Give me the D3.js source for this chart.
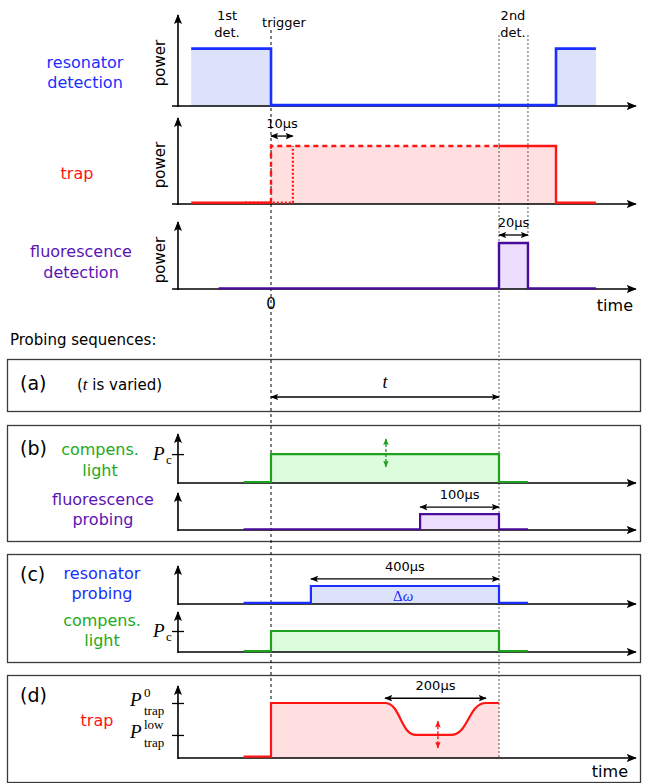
<!DOCTYPE html>
<html>
<head>
<meta charset="utf-8">
<script src="https://cdn.jsdelivr.net/npm/d3@7"></script>
<style>
body { margin: 0; background: #fff; }
text { font-family: "DejaVu Sans", Verdana, sans-serif; }
.math { font-family: "Liberation Serif", "DejaVu Serif", serif; font-style: italic; }
.rm { font-family: "Liberation Serif", "DejaVu Serif", serif; font-style: normal; }
</style>
</head>
<body>
<svg></svg>
<script>
// schematic time units: 0 = trigger, 100 = 2nd detection
// each trace: [time, level], level 0..1 of its own panel height
var resonatorDetection = [[-35, 0.63], [0, 0.63], [0, 0.01], [125, 0.01], [125, 0.63], [142.5, 0.63]];
var trapBefore = [[-35, 0.015], [0, 0.015]];
var trapDashed = [[0, 0.015], [0, 0.674], [100, 0.674]];
var trapAfter = [[100, 0.674], [125, 0.674], [125, 0.015], [142.5, 0.015]];
var trapDelayed = [[-11.5, 0.015], [9.6, 0.015], [9.6, 0.674]];
var fluoDetection = [[-23, 0.01], [100, 0.01], [100, 0.687], [112.7, 0.687], [112.7, 0.01], [142.5, 0.01]];
var compensB = [[-12, 0.02], [0, 0.02], [0, 0.59], [100, 0.59], [100, 0.02], [112.7, 0.02]];
var fluoProbing = [[-12, 0.02], [65.4, 0.02], [65.4, 0.43], [100, 0.43], [100, 0.02], [112.7, 0.02]];
var resProbing = [[-12, 0.03], [17.5, 0.03], [17.5, 0.474], [100, 0.474], [100, 0.03], [112.7, 0.03]];
var compensC = [[-12, 0.02], [0, 0.02], [0, 0.525], [100, 0.525], [100, 0.02], [112.7, 0.02]];
var trapD = [[-12, 0.02], [0, 0.02], [0, 0.764], [50, 0.764], [63.6, 0.32], [78.9, 0.32], [94.3, 0.764], [100, 0.764]];

// dimension arrows: [t0, t1, level, label]
var span10 = [0, 9.6, 0.79, "10µs"];
var span20 = [100, 112.7, 0.806, "20µs"];
var span100 = [65.4, 100, 0.62, "100µs"];
var span400 = [17.5, 100, 0.66, "400µs"];
var span200 = [50, 94.3, 0.83, "200µs"];
var spanT = [0, 100];

// level ticks
var pcB = 0.59, pcC = 0.525;
var pTrap0 = 0.764, pTrapLow = 0.32;

var blue = "#1a2eff", blueFill = "#dde2fb";
var red = "#ff1414", redFill = "#ffdfe0";
var purple = "#4a0c9c", purpleText = "#5a14b4", purpleFill = "#ecdefc";
var green = "#1fa01f", greenText = "#22aa22", greenFill = "#ddfcdd";

var svg = d3.select("svg").attr("width", 645).attr("height", 783);

var x = d3.scaleLinear().domain([0, 100]).range([271, 499]);

var defs = svg.append("defs");
function marker(id, size, color) {
  defs.append("marker")
    .attr("id", id)
    .attr("viewBox", "0 0 10 10")
    .attr("refX", 9).attr("refY", 5)
    .attr("markerWidth", size).attr("markerHeight", size)
    .attr("markerUnits", "userSpaceOnUse")
    .attr("orient", "auto-start-reverse")
    .append("path")
    .attr("d", "M0,1 L10,5 L0,9 L2,5 z")
    .attr("fill", color);
}
marker("ah", 10, "#000");
marker("dh", 8, "#000");
marker("gh", 7, green);
marker("rh", 7, red);

function panel(base, top) {
  return d3.scaleLinear().domain([0, 1]).range([base, top]);
}
var yRes = panel(106, 15), yTrap = panel(204, 118), yFluo = panel(289, 222);
var yB1 = panel(483, 434), yB2 = panel(530, 493);
var yC1 = panel(604, 566), yC2 = panel(652, 612);
var yD = panel(758, 686);

function line(y, curve) {
  return d3.line().x(function(d) { return x(d[0]); }).y(function(d) { return y(d[1]); }).curve(curve || d3.curveLinear);
}
function area(y, curve) {
  return d3.area().x(function(d) { return x(d[0]); }).y0(y(0)).y1(function(d) { return y(d[1]); }).curve(curve || d3.curveLinear);
}

// boxes
var boxes = [[359, 411], [425, 541], [554, 662], [675, 782]];
svg.selectAll("rect.box").data(boxes).enter().append("rect")
  .attr("x", 7.5).attr("width", 633)
  .attr("y", function(d) { return d[0] + 0.5; })
  .attr("height", function(d) { return d[1] - d[0]; })
  .attr("fill", "none").attr("stroke", "#3a3a3a").attr("stroke-width", 1.3);

// fills
function fill(y, data, color, curve) {
  svg.append("path").datum(data).attr("d", area(y, curve)).attr("fill", color);
}
fill(yRes, resonatorDetection, blueFill);
fill(yTrap, trapBefore.concat(trapDashed, trapAfter), redFill);
fill(yFluo, fluoDetection, purpleFill);
fill(yB1, compensB, greenFill);
fill(yB2, fluoProbing, purpleFill);
fill(yC1, resProbing, blueFill);
fill(yC2, compensC, greenFill);
fill(yD, trapD, redFill, d3.curveBumpX);

// guide lines
function guide(t, y1, y2, color, dash) {
  svg.append("line").attr("x1", x(t)).attr("x2", x(t)).attr("y1", y1).attr("y2", y2)
    .attr("stroke", color).attr("stroke-width", 1).attr("stroke-dasharray", dash);
}
guide(0, 30, 703, "#000", "3,3");
guide(100, 35, 758, "#555", "2,2");
guide(112.7, 35, 236, "#555", "2,2");

// axes
function axes(y, t0) {
  svg.append("line").attr("x1", x(-40.8)).attr("x2", x(-40.8))
    .attr("y1", y(0) + 1).attr("y2", y(1))
    .attr("stroke", "#000").attr("stroke-width", 1.6).attr("marker-end", "url(#ah)");
  svg.append("line").attr("x1", x(t0)).attr("x2", x(160))
    .attr("y1", y(0)).attr("y2", y(0))
    .attr("stroke", "#000").attr("stroke-width", 1.6).attr("marker-end", "url(#ah)");
}
axes(yRes, -43.4); axes(yTrap, -43.4); axes(yFluo, -43.4);
axes(yB1, -40.8); axes(yB2, -40.8); axes(yC1, -40.8); axes(yC2, -40.8); axes(yD, -40.8);

// level ticks via d3 axes
function ticks(y, vals) {
  var g = svg.append("g").attr("transform", "translate(" + x(-40.8) + ",0)")
    .call(d3.axisLeft(y).tickValues(vals).tickFormat("").tickSize(6));
  g.select(".domain").remove();
  g.selectAll(".tick line").attr("x1", 6).attr("x2", -6).attr("stroke-width", 1.3);
}
ticks(yB1, [pcB]); ticks(yC2, [pcC]); ticks(yD, [pTrap0, pTrapLow]);

// traces
function trace(y, data, color, w, dash, curve) {
  svg.append("path").datum(data).attr("d", line(y, curve))
    .attr("fill", "none").attr("stroke", color).attr("stroke-width", w)
    .attr("stroke-dasharray", dash || null);
}
trace(yRes, resonatorDetection, blue, 2.6);
trace(yTrap, trapBefore, red, 2.4);
trace(yTrap, trapDelayed, red, 2.2, "2,2");
trace(yTrap, trapDashed, red, 2.4, "5,4");
trace(yTrap, trapAfter, red, 2.4);
trace(yFluo, fluoDetection, purple, 2.4);
trace(yB1, compensB, green, 2.2);
trace(yB2, fluoProbing, purple, 2.2);
trace(yC1, resProbing, blue, 2.2);
trace(yC2, compensC, green, 2.2);
trace(yD, trapD, red, 2.2, null, d3.curveBumpX);

// dimension arrows
function span(y, s) {
  svg.append("line").attr("x1", x(s[0])).attr("x2", x(s[1]))
    .attr("y1", y(s[2])).attr("y2", y(s[2]))
    .attr("stroke", "#000").attr("stroke-width", 1.3)
    .attr("marker-start", "url(#dh)").attr("marker-end", "url(#dh)");
  svg.append("text").attr("x", (x(s[0]) + x(s[1])) / 2).attr("y", y(s[2]) - 8)
    .attr("text-anchor", "middle").attr("font-size", 13).text(s[3]);
}
span(yTrap, span10); span(yFluo, span20); span(yB2, span100); span(yC1, span400); span(yD, span200);

svg.append("line").attr("x1", x(spanT[0])).attr("x2", x(spanT[1])).attr("y1", 397).attr("y2", 397)
  .attr("stroke", "#000").attr("stroke-width", 1.3)
  .attr("marker-start", "url(#dh)").attr("marker-end", "url(#dh)");
svg.append("text").attr("class", "math").attr("x", x(50)).attr("y", 388)
  .attr("text-anchor", "middle").attr("font-size", 18).text("t");

// variation arrows (dashed)
function vary(y, t, l0, l1, color, mk) {
  svg.append("line").attr("x1", x(t)).attr("x2", x(t)).attr("y1", y(l0)).attr("y2", y(l1))
    .attr("stroke", color).attr("stroke-width", 1.4).attr("stroke-dasharray", "3,2")
    .attr("marker-start", "url(#" + mk + ")").attr("marker-end", "url(#" + mk + ")");
}
vary(yB1, 50.4, 0.90, 0.33, green, "gh");
vary(yD, 73.2, 0.51, 0.14, red, "rh");

// labels
function label(tx, ty, str, size, color, anchor) {
  return svg.append("text").attr("x", tx).attr("y", ty).attr("font-size", size)
    .attr("fill", color || "#000").attr("text-anchor", anchor || "middle").text(str);
}
label(227, 20, "1st", 13); label(227, 37, "det.", 13);
label(284, 27, "trigger", 13);
label(513, 20, "2nd", 13); label(513, 37, "det.", 13);

label(85, 68, "resonator", 16, blue); label(85, 88, "detection", 16, blue);
label(77, 179, "trap", 16, red);
label(81, 257, "fluorescence", 16, purpleText); label(81, 278, "detection", 16, purpleText);

[63, 165, 260].forEach(function(cy) {
  svg.append("text").attr("transform", "translate(165," + cy + ") rotate(-90)")
    .attr("text-anchor", "middle").attr("font-size", 15).text("power");
});

label(x(0), 309, "0", 15);
label(633, 311, "time", 16, "#000", "end");
label(10, 345, "Probing sequences:", 15, "#000", "start");

// (a)
label(20, 390, "(a)", 19, "#000", "start");
var ta = svg.append("text").attr("x", 77).attr("y", 390).attr("font-size", 15);
ta.append("tspan").text("(");
ta.append("tspan").attr("class", "math").attr("font-size", 17).text("t");
ta.append("tspan").text("  is varied)");

// (b)
label(20, 455, "(b)", 19, "#000", "start");
label(100, 455, "compens.", 16, greenText); label(100, 476, "light", 16, greenText);
label(103, 505, "fluorescence", 16, purpleText); label(103, 525, "probing", 16, purpleText);

// (c)
label(20, 581, "(c)", 19, "#000", "start");
label(102, 579, "resonator", 16, blue); label(102, 599, "probing", 16, blue);
label(102, 626, "compens.", 16, greenText); label(102, 646, "light", 16, greenText);
svg.append("text").attr("class", "rm").attr("x", x(58)).attr("y", 601).attr("font-size", 15)
  .attr("text-anchor", "middle").attr("fill", blue)
  .html('Δ<tspan class="math">ω</tspan>');

// (d)
label(20, 702, "(d)", 19, "#000", "start");
label(97, 726, "trap", 16, red);
label(628, 777, "time", 16, "#000", "end");

// P labels: P with roman sub/superscripts
function pLabel(px, y, lvl, sub, sup) {
  var cy = y(lvl);
  svg.append("text").attr("class", "math").attr("x", px).attr("y", cy + (sup ? 3 : 6)).attr("font-size", 19).text("P");
  if (sup) {
    svg.append("text").attr("class", "rm").attr("x", px + 14).attr("y", cy - 6).attr("font-size", 13).text(sup);
    svg.append("text").attr("class", "rm").attr("x", px + 14).attr("y", cy + 12).attr("font-size", 13).text(sub);
  } else {
    svg.append("text").attr("class", "rm").attr("x", px + 13).attr("y", cy + 10).attr("font-size", 13).text(sub);
  }
}
pLabel(153, yB1, pcB, "c");
pLabel(153, yC2, pcC, "c");
pLabel(130, yD, pTrap0, "trap", "0");
pLabel(130, yD, pTrapLow, "trap", "low");
</script>
</body>
</html>
